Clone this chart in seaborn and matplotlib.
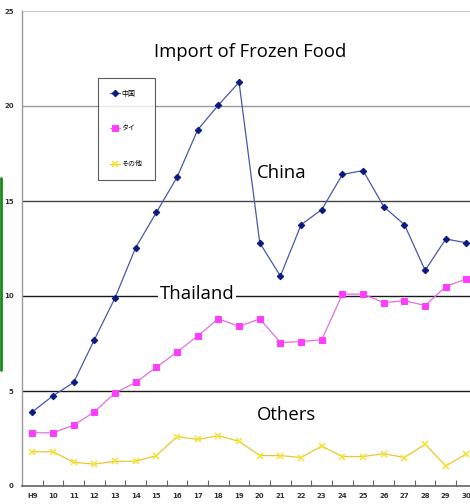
import numpy as np
import matplotlib.pyplot as plt
from matplotlib.lines import Line2D
import seaborn as sns

YEARS = ["H9", "10", "11", "12", "13", "14", "15", "16", "17", "18", "19",
         "20", "21", "22", "23", "24", "25", "26", "27", "28", "29", "30"]
CHINA = [3.9, 4.75, 5.45, 7.7, 9.9, 12.55, 14.4, 16.25, 18.75, 20.05, 21.25,
         12.8, 11.05, 13.75, 14.55, 16.4, 16.6, 14.7, 13.75, 11.35, 13.0, 12.8]
THAILAND = [2.8, 2.8, 3.2, 3.9, 4.9, 5.45, 6.25, 7.05, 7.9, 8.8, 8.4,
            8.8, 7.55, 7.6, 7.7, 10.1, 10.1, 9.65, 9.75, 9.5, 10.5, 10.9]
OTHERS = [1.8, 1.8, 1.25, 1.15, 1.3, 1.3, 1.6, 2.6, 2.45, 2.65, 2.35,
          1.6, 1.6, 1.5, 2.1, 1.55, 1.55, 1.7, 1.5, 2.2, 1.05, 1.7]
LEGEND_LABELS = ["中国", "タイ", "その他"]
Y_TICKS = [0, 5, 10, 15, 20, 25]

sns.set_style("white")
plt.rcParams["font.family"] = ["Open Sans", "DejaVu Sans"]
plt.rcParams["text.color"] = "black"

fig = plt.figure(figsize=(4.7, 5.04), dpi=100)
ax = fig.add_axes([22 / 470, 18 / 504, 448 / 470, 475 / 504])

x = np.arange(len(YEARS))
sns.lineplot(x=x, y=CHINA, ax=ax, color="#4a58a8", lw=0.9, marker="D",
             markersize=3.3, markerfacecolor="#0b1a80", markeredgecolor="#0b1a80",
             sort=False, label=LEGEND_LABELS[0])
sns.lineplot(x=x, y=THAILAND, ax=ax, color="#e070e0", lw=0.9, marker="s",
             markersize=4.6, markerfacecolor="#ff3cff", markeredgecolor="#ff3cff",
             sort=False, label=LEGEND_LABELS[1])
sns.lineplot(x=x, y=OTHERS, ax=ax, color="#e8c830", lw=0.9, marker="x",
             markersize=4.6, markeredgewidth=1.2, markeredgecolor="#f5e33c",
             sort=False, label=LEGEND_LABELS[2])

ax.set_xlim(-0.5, len(YEARS) - 1 + 0.17)
ax.set_ylim(0, 25)
ax.set_xticks(x)
ax.set_xticklabels(YEARS, family=["Liberation Sans Narrow", "DejaVu Sans"],
                   fontsize=5, fontweight="bold", color="#333333")
ax.set_xticks(x[:-1] + 0.5, minor=True)
ax.tick_params(axis="x", which="major", length=0, pad=5)
ax.tick_params(axis="x", which="minor", direction="in", length=4,
               width=0.8, color="#666666", bottom=True)
ax.set_yticks(Y_TICKS)
ax.set_yticklabels([str(t) for t in Y_TICKS],
                   family=["Liberation Sans Narrow", "DejaVu Sans"],
                   fontsize=5, fontweight="bold", color="#333333")
ax.tick_params(axis="y", length=0, pad=6)

ax.grid(axis="y", lw=1.0)
grid_colors = ["#666666", "#1a1a1a", "#1a1a1a", "#444444", "#999999", "#cccccc"]
for gl, c in zip(ax.get_ygridlines(), grid_colors):
    gl.set_color(c)

for s in ["top", "right"]:
    ax.spines[s].set_visible(False)
ax.spines["left"].set_color("#999999")
ax.spines["bottom"].set_color("#666666")
ax.spines["left"].set_linewidth(1.0)
ax.spines["bottom"].set_linewidth(1.2)

leg = ax.legend(loc="upper left", bbox_to_anchor=(0.17, 0.859), borderaxespad=0,
                prop={"family": ["Noto Sans CJK JP", "DejaVu Sans"], "size": 5},
                frameon=True, fancybox=False, edgecolor="#333333",
                labelspacing=3.9, borderpad=1.7, handlelength=1.5,
                handletextpad=0.2)
leg.get_frame().set_linewidth(0.8)

ax.text(10.53, 22.85, "Import of Frozen Food", fontsize=13.3, ha="center", va="center")
ax.text(12.08, 16.45, "China", fontsize=13.3, ha="center", va="center")
ax.text(7.97, 10.1, "Thailand", fontsize=13.3, ha="center", va="center",
        bbox=dict(facecolor="white", edgecolor="none", pad=1.0))
ax.text(12.3, 3.75, "Others", fontsize=13.3, ha="center", va="center")

fig.add_artist(Line2D([1.2 / 470, 1.2 / 470], [1 - 178 / 504, 1 - 370 / 504],
                      color="#1a8a1a", lw=2))

fig.savefig("out.png", dpi=100)
